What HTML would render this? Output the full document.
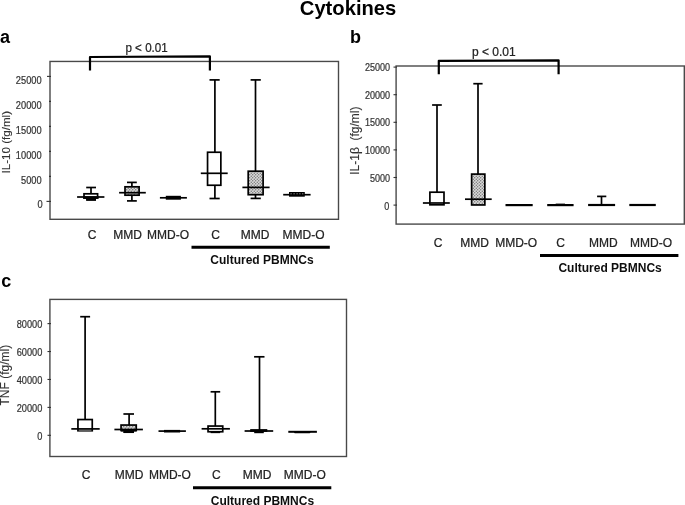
<!DOCTYPE html>
<html><head><meta charset="utf-8"><style>
html,body{margin:0;padding:0;background:#fff;}
svg{display:block;}
text{font-family:"Liberation Sans",sans-serif;}
</style></head><body>
<svg width="685" height="505" viewBox="0 0 685 505">
<defs>
<filter id="soft" x="-5%" y="-5%" width="110%" height="110%"><feGaussianBlur stdDeviation="0.4"/></filter>
<pattern id="dots" width="3" height="3" patternUnits="userSpaceOnUse">
<rect width="3" height="3" fill="#dadada"/>
<circle cx="0.75" cy="0.75" r="0.65" fill="#6a6a6a"/><circle cx="2.25" cy="2.25" r="0.65" fill="#6a6a6a"/>
</pattern>
<pattern id="stripes" width="4" height="4" patternUnits="userSpaceOnUse">
<rect width="4" height="4" fill="#ddd"/>
<path d="M0 4 L4 0" stroke="#666" stroke-width="1"/>
</pattern>
</defs>
<rect width="685" height="505" fill="#fff"/>
<g filter="url(#soft)">
<text x="299.8" y="14.5" font-size="20.2" text-anchor="start" font-weight="bold" fill="#000">Cytokines</text>
<text x="0" y="43.2" font-size="18" text-anchor="start" font-weight="bold" fill="#000">a</text>
<rect x="50.0" y="61.45" width="288.5" height="157.85000000000002" fill="none" stroke="#4a4a4a" stroke-width="1.4"/>
<line x1="47.0" y1="76.4" x2="51.0" y2="76.4" stroke="#333" stroke-width="1.1"/>
<text transform="translate(41.6,84.0) scale(0.875,1)" font-size="10.6" text-anchor="end" font-weight="normal" fill="#333" stroke="#333" stroke-width="0.22">25000</text>
<line x1="49.0" y1="101.4" x2="51.0" y2="101.4" stroke="#333" stroke-width="1.1"/>
<text transform="translate(41.6,109.0) scale(0.875,1)" font-size="10.6" text-anchor="end" font-weight="normal" fill="#333" stroke="#333" stroke-width="0.22">20000</text>
<line x1="49.0" y1="126.4" x2="51.0" y2="126.4" stroke="#333" stroke-width="1.1"/>
<text transform="translate(41.6,134.0) scale(0.875,1)" font-size="10.6" text-anchor="end" font-weight="normal" fill="#333" stroke="#333" stroke-width="0.22">15000</text>
<line x1="49.0" y1="151.4" x2="51.0" y2="151.4" stroke="#333" stroke-width="1.1"/>
<text transform="translate(41.6,159.0) scale(0.875,1)" font-size="10.6" text-anchor="end" font-weight="normal" fill="#333" stroke="#333" stroke-width="0.22">10000</text>
<line x1="49.0" y1="176.4" x2="51.0" y2="176.4" stroke="#333" stroke-width="1.1"/>
<text transform="translate(41.6,184.0) scale(0.875,1)" font-size="10.6" text-anchor="end" font-weight="normal" fill="#333" stroke="#333" stroke-width="0.22">5000</text>
<line x1="46.5" y1="201.4" x2="51.0" y2="201.4" stroke="#333" stroke-width="1.1"/>
<text transform="translate(42.6,207.6) scale(0.875,1)" font-size="10.6" text-anchor="end" font-weight="normal" fill="#333" stroke="#333" stroke-width="0.22">0</text>
<text transform="translate(9.8,142.2) rotate(-90)" font-size="11.6" text-anchor="middle" font-weight="normal" fill="#333" stroke="#333" stroke-width="0.1">IL-10 (fg/ml)</text>
<path d="M90 70.4 V57.0 L209.9 56.4 V70.4" fill="none" stroke="#000" stroke-width="2.2" stroke-linejoin="round"/>
<text transform="translate(146.6,51.5) scale(0.97,1)" font-size="12" text-anchor="middle" font-weight="normal" fill="#222" stroke="#222" stroke-width="0.22">p &lt; 0.01</text>
<line x1="91" y1="187.5" x2="91" y2="193.8" stroke="#000" stroke-width="1.7"/>
<line x1="86.2" y1="187.5" x2="96" y2="187.5" stroke="#000" stroke-width="1.7"/>
<line x1="91" y1="198.0" x2="91" y2="199.8" stroke="#000" stroke-width="1.7"/>
<line x1="86.2" y1="199.8" x2="96" y2="199.8" stroke="#000" stroke-width="1.7"/>
<rect x="84.0" y="193.8" width="13.599999999999994" height="4.199999999999989" fill="#fff" stroke="#000" stroke-width="1.7"/>
<line x1="77.1" y1="197.0" x2="104.4" y2="197.0" stroke="#000" stroke-width="1.7"/>
<rect x="83.2" y="196.3" width="15.2" height="2.5" fill="#000"/><rect x="86.2" y="198" width="9.8" height="2.7" fill="#000"/>
<line x1="131.9" y1="182.4" x2="131.9" y2="186.8" stroke="#000" stroke-width="1.7"/>
<line x1="127" y1="182.4" x2="136.8" y2="182.4" stroke="#000" stroke-width="1.7"/>
<line x1="131.9" y1="195.2" x2="131.9" y2="200.9" stroke="#000" stroke-width="1.7"/>
<line x1="127" y1="200.9" x2="136.8" y2="200.9" stroke="#000" stroke-width="1.7"/>
<rect x="125.0" y="186.8" width="14.099999999999994" height="8.399999999999977" fill="url(#dots)" stroke="#000" stroke-width="1.7"/>
<line x1="119.1" y1="192.7" x2="145.8" y2="192.7" stroke="#000" stroke-width="1.7"/>
<rect x="165.8" y="195.8" width="15.1" height="3.9" fill="#000"/>
<line x1="159.9" y1="197.8" x2="186.9" y2="197.8" stroke="#000" stroke-width="1.7"/>
<line x1="214.9" y1="79.9" x2="214.9" y2="152.25" stroke="#000" stroke-width="1.7"/>
<line x1="209.5" y1="79.9" x2="219.7" y2="79.9" stroke="#000" stroke-width="1.7"/>
<line x1="214.9" y1="185.25" x2="214.9" y2="198.5" stroke="#000" stroke-width="1.7"/>
<line x1="209.5" y1="198.5" x2="219.7" y2="198.5" stroke="#000" stroke-width="1.7"/>
<rect x="207.55" y="152.25" width="13.299999999999983" height="33.0" fill="#fff" stroke="#000" stroke-width="1.7"/>
<line x1="200.8" y1="173.3" x2="227.7" y2="173.3" stroke="#000" stroke-width="1.7"/>
<line x1="255.5" y1="79.9" x2="255.5" y2="171.2" stroke="#000" stroke-width="1.7"/>
<line x1="250.6" y1="79.9" x2="260.8" y2="79.9" stroke="#000" stroke-width="1.7"/>
<line x1="255.5" y1="194.7" x2="255.5" y2="198.4" stroke="#000" stroke-width="1.7"/>
<line x1="250.6" y1="198.4" x2="260.8" y2="198.4" stroke="#000" stroke-width="1.7"/>
<rect x="248.2" y="171.2" width="14.900000000000034" height="23.5" fill="url(#dots)" stroke="#000" stroke-width="1.7"/>
<line x1="242.4" y1="187.4" x2="269.6" y2="187.4" stroke="#000" stroke-width="1.7"/>
<rect x="289" y="192" width="15.8" height="4.7" fill="#000"/>
<line x1="283.2" y1="194.7" x2="310.6" y2="194.7" stroke="#000" stroke-width="1.7"/>
<rect x="290.5" y="193.2" width="1.2" height="1.1" fill="#888"/>
<rect x="293.5" y="193.2" width="1.2" height="1.1" fill="#888"/>
<rect x="296.5" y="193.2" width="1.2" height="1.1" fill="#888"/>
<rect x="299.29999999999995" y="193.2" width="1.2" height="1.1" fill="#888"/>
<rect x="302.09999999999997" y="193.2" width="1.2" height="1.1" fill="#888"/>
<text x="92" y="238.7" font-size="12" text-anchor="middle" font-weight="normal" fill="#222" stroke="#222" stroke-width="0.22">C</text>
<text x="127.6" y="238.7" font-size="12" text-anchor="middle" font-weight="normal" fill="#222" stroke="#222" stroke-width="0.22">MMD</text>
<text x="168" y="238.7" font-size="12" text-anchor="middle" font-weight="normal" fill="#222" stroke="#222" stroke-width="0.22">MMD-O</text>
<text x="215.6" y="238.7" font-size="12" text-anchor="middle" font-weight="normal" fill="#222" stroke="#222" stroke-width="0.22">C</text>
<text x="255.2" y="238.7" font-size="12" text-anchor="middle" font-weight="normal" fill="#222" stroke="#222" stroke-width="0.22">MMD</text>
<text x="303.6" y="238.7" font-size="12" text-anchor="middle" font-weight="normal" fill="#222" stroke="#222" stroke-width="0.22">MMD-O</text>
<line x1="191.5" y1="247.2" x2="329.8" y2="247.2" stroke="#000" stroke-width="3.0"/>
<text x="262" y="263.6" font-size="12" text-anchor="middle" font-weight="bold" fill="#111">Cultured PBMNCs</text>
<text x="350.0" y="43.4" font-size="18" text-anchor="start" font-weight="bold" fill="#000">b</text>
<rect x="396.1" y="66.0" width="288.19999999999993" height="158.1" fill="none" stroke="#4a4a4a" stroke-width="1.4"/>
<line x1="393.5" y1="67.1" x2="397.0" y2="67.1" stroke="#333" stroke-width="1.1"/>
<text transform="translate(390.1,70.7) scale(0.88,1)" font-size="10.3" text-anchor="end" font-weight="normal" fill="#333" stroke="#333" stroke-width="0.22">25000</text>
<line x1="393.5" y1="94.69999999999999" x2="397.0" y2="94.69999999999999" stroke="#333" stroke-width="1.1"/>
<text transform="translate(390.1,98.56) scale(0.88,1)" font-size="10.3" text-anchor="end" font-weight="normal" fill="#333" stroke="#333" stroke-width="0.22">20000</text>
<line x1="393.5" y1="122.3" x2="397.0" y2="122.3" stroke="#333" stroke-width="1.1"/>
<text transform="translate(390.1,126.42) scale(0.88,1)" font-size="10.3" text-anchor="end" font-weight="normal" fill="#333" stroke="#333" stroke-width="0.22">15000</text>
<line x1="393.5" y1="149.9" x2="397.0" y2="149.9" stroke="#333" stroke-width="1.1"/>
<text transform="translate(390.1,154.28) scale(0.88,1)" font-size="10.3" text-anchor="end" font-weight="normal" fill="#333" stroke="#333" stroke-width="0.22">10000</text>
<line x1="393.5" y1="177.5" x2="397.0" y2="177.5" stroke="#333" stroke-width="1.1"/>
<text transform="translate(390.1,182.14) scale(0.88,1)" font-size="10.3" text-anchor="end" font-weight="normal" fill="#333" stroke="#333" stroke-width="0.22">5000</text>
<line x1="393.5" y1="205.1" x2="397.0" y2="205.1" stroke="#333" stroke-width="1.1"/>
<text transform="translate(389.4,210.0) scale(0.88,1)" font-size="10.3" text-anchor="end" font-weight="normal" fill="#333" stroke="#333" stroke-width="0.22">0</text>
<text transform="translate(358.7,140.6) rotate(-90)" font-size="12" text-anchor="middle" font-weight="normal" fill="#333" stroke="#333" stroke-width="0.1">IL-1β&#160; (fg/ml)</text>
<path d="M438.8 74.2 V60.8 L558.6 60.35 V74.2" fill="none" stroke="#000" stroke-width="2.2" stroke-linejoin="round"/>
<text x="493.8" y="56.2" font-size="12" text-anchor="middle" font-weight="normal" fill="#222" stroke="#222" stroke-width="0.22">p &lt; 0.01</text>
<line x1="437" y1="105" x2="437" y2="192.2" stroke="#000" stroke-width="1.7"/>
<line x1="432.1" y1="105" x2="441.8" y2="105" stroke="#000" stroke-width="1.7"/>
<rect x="429.9" y="192.2" width="14.100000000000023" height="12.600000000000023" fill="#fff" stroke="#000" stroke-width="1.7"/>
<line x1="422.9" y1="203" x2="449.8" y2="203" stroke="#000" stroke-width="1.7"/>
<line x1="478" y1="83.7" x2="478" y2="174.1" stroke="#000" stroke-width="1.7"/>
<line x1="473.3" y1="83.7" x2="482.6" y2="83.7" stroke="#000" stroke-width="1.7"/>
<rect x="471.65" y="174.1" width="13.200000000000045" height="30.849999999999994" fill="url(#dots)" stroke="#000" stroke-width="1.7"/>
<line x1="465" y1="199.2" x2="491.7" y2="199.2" stroke="#000" stroke-width="1.7"/>
<line x1="505.5" y1="205.1" x2="532.7" y2="205.1" stroke="#000" stroke-width="2.2"/>
<rect x="555.7" y="203.6" width="9.3" height="2" fill="#000"/>
<line x1="547.2" y1="205.1" x2="573.6" y2="205.1" stroke="#000" stroke-width="2.2"/>
<line x1="601.5" y1="196.4" x2="601.5" y2="205" stroke="#000" stroke-width="1.7"/>
<line x1="597.1" y1="196.4" x2="606.3" y2="196.4" stroke="#000" stroke-width="1.7"/>
<line x1="588.1" y1="205" x2="615.1" y2="205" stroke="#000" stroke-width="2.2"/>
<line x1="629.3" y1="205" x2="655.8" y2="205" stroke="#000" stroke-width="2.2"/>
<text x="438" y="247.2" font-size="12" text-anchor="middle" font-weight="normal" fill="#222" stroke="#222" stroke-width="0.22">C</text>
<text x="474.5" y="247.2" font-size="12" text-anchor="middle" font-weight="normal" fill="#222" stroke="#222" stroke-width="0.22">MMD</text>
<text x="516.2" y="247.2" font-size="12" text-anchor="middle" font-weight="normal" fill="#222" stroke="#222" stroke-width="0.22">MMD-O</text>
<text x="560.5" y="247.2" font-size="12" text-anchor="middle" font-weight="normal" fill="#222" stroke="#222" stroke-width="0.22">C</text>
<text x="603.4" y="247.2" font-size="12" text-anchor="middle" font-weight="normal" fill="#222" stroke="#222" stroke-width="0.22">MMD</text>
<text x="651" y="247.2" font-size="12" text-anchor="middle" font-weight="normal" fill="#222" stroke="#222" stroke-width="0.22">MMD-O</text>
<line x1="540" y1="255.5" x2="678.4" y2="255.5" stroke="#000" stroke-width="3.0"/>
<text x="610.1" y="272.0" font-size="12" text-anchor="middle" font-weight="bold" fill="#111">Cultured PBMNCs</text>
<text x="1.2" y="286.9" font-size="18" text-anchor="start" font-weight="bold" fill="#000">c</text>
<rect x="49.9" y="299.4" width="296.6" height="157.10000000000002" fill="none" stroke="#4a4a4a" stroke-width="1.4"/>
<line x1="47.5" y1="323.6" x2="51.0" y2="323.6" stroke="#333" stroke-width="1.1"/>
<text transform="translate(42.3,327.90000000000003) scale(0.88,1)" font-size="10.5" text-anchor="end" font-weight="normal" fill="#333" stroke="#333" stroke-width="0.22">80000</text>
<line x1="47.5" y1="351.53000000000003" x2="51.0" y2="351.53000000000003" stroke="#333" stroke-width="1.1"/>
<text transform="translate(42.3,355.83000000000004) scale(0.88,1)" font-size="10.5" text-anchor="end" font-weight="normal" fill="#333" stroke="#333" stroke-width="0.22">60000</text>
<line x1="47.5" y1="379.46000000000004" x2="51.0" y2="379.46000000000004" stroke="#333" stroke-width="1.1"/>
<text transform="translate(42.3,383.76000000000005) scale(0.88,1)" font-size="10.5" text-anchor="end" font-weight="normal" fill="#333" stroke="#333" stroke-width="0.22">40000</text>
<line x1="47.5" y1="407.39" x2="51.0" y2="407.39" stroke="#333" stroke-width="1.1"/>
<text transform="translate(42.3,411.69) scale(0.88,1)" font-size="10.5" text-anchor="end" font-weight="normal" fill="#333" stroke="#333" stroke-width="0.22">20000</text>
<line x1="47.5" y1="435.32000000000005" x2="51.0" y2="435.32000000000005" stroke="#333" stroke-width="1.1"/>
<text transform="translate(42.3,439.62000000000006) scale(0.88,1)" font-size="10.5" text-anchor="end" font-weight="normal" fill="#333" stroke="#333" stroke-width="0.22">0</text>
<text transform="translate(9.2,375.2) rotate(-90)" font-size="12" text-anchor="middle" font-weight="normal" fill="#333" stroke="#333" stroke-width="0.1">TNF (fg/ml)</text>
<line x1="85.1" y1="316.7" x2="85.1" y2="419.55" stroke="#000" stroke-width="1.7"/>
<line x1="80.2" y1="316.7" x2="90.1" y2="316.7" stroke="#000" stroke-width="1.7"/>
<rect x="77.95" y="419.55" width="14.299999999999997" height="11.199999999999989" fill="#fff" stroke="#000" stroke-width="1.7"/>
<rect x="78.8" y="429.6" width="12.6" height="1.2" fill="#777"/>
<line x1="71.3" y1="428.9" x2="99.7" y2="428.9" stroke="#000" stroke-width="1.7"/>
<line x1="129.1" y1="414" x2="129.1" y2="425.05" stroke="#000" stroke-width="1.7"/>
<line x1="123.4" y1="414" x2="134" y2="414" stroke="#000" stroke-width="1.7"/>
<line x1="129.1" y1="430.5" x2="129.1" y2="432.2" stroke="#000" stroke-width="1.7"/>
<line x1="123.4" y1="432.2" x2="134" y2="432.2" stroke="#000" stroke-width="1.7"/>
<rect x="121.05" y="425.05" width="15.200000000000003" height="5.449999999999989" fill="url(#dots)" stroke="#000" stroke-width="1.7"/>
<line x1="114.4" y1="429.5" x2="142.9" y2="429.5" stroke="#000" stroke-width="1.7"/>
<rect x="121" y="429.5" width="15.5" height="2" fill="#000"/><rect x="123.6" y="430.5" width="10.4" height="2.4" fill="#000"/>
<rect x="164" y="429.9" width="16.1" height="2.6" fill="#000"/>
<line x1="158.5" y1="431.1" x2="185.9" y2="431.1" stroke="#000" stroke-width="1.7"/>
<line x1="215.3" y1="391.8" x2="215.3" y2="426.05" stroke="#000" stroke-width="1.7"/>
<line x1="210.6" y1="391.8" x2="220.2" y2="391.8" stroke="#000" stroke-width="1.7"/>
<line x1="215.3" y1="431.75" x2="215.3" y2="432.3" stroke="#000" stroke-width="1.7"/>
<line x1="210.6" y1="432.3" x2="220.2" y2="432.3" stroke="#000" stroke-width="1.7"/>
<rect x="208.05" y="426.05" width="14.699999999999989" height="5.699999999999989" fill="#fff" stroke="#000" stroke-width="1.7"/>
<line x1="201.6" y1="428.8" x2="229.9" y2="428.8" stroke="#000" stroke-width="1.7"/>
<rect x="250.2" y="429.1" width="17.1" height="2.8" fill="#000"/><rect x="254.2" y="431" width="9.6" height="2.2" fill="#000"/>
<line x1="259.5" y1="356.8" x2="259.5" y2="430" stroke="#000" stroke-width="1.7"/>
<line x1="254.1" y1="356.8" x2="264.5" y2="356.8" stroke="#000" stroke-width="1.7"/>
<line x1="244.6" y1="431" x2="273.2" y2="431" stroke="#000" stroke-width="1.7"/>
<line x1="288.3" y1="431.8" x2="316.9" y2="431.8" stroke="#000" stroke-width="2.0"/>
<rect x="294.1" y="431.2" width="16.3" height="2.1" rx="0.8" fill="#000"/>
<text x="86" y="478.8" font-size="12" text-anchor="middle" font-weight="normal" fill="#222" stroke="#222" stroke-width="0.22">C</text>
<text x="129.1" y="478.8" font-size="12" text-anchor="middle" font-weight="normal" fill="#222" stroke="#222" stroke-width="0.22">MMD</text>
<text x="169.9" y="478.8" font-size="12" text-anchor="middle" font-weight="normal" fill="#222" stroke="#222" stroke-width="0.22">MMD-O</text>
<text x="216.3" y="478.8" font-size="12" text-anchor="middle" font-weight="normal" fill="#222" stroke="#222" stroke-width="0.22">C</text>
<text x="257" y="478.8" font-size="12" text-anchor="middle" font-weight="normal" fill="#222" stroke="#222" stroke-width="0.22">MMD</text>
<text x="304.8" y="478.8" font-size="12" text-anchor="middle" font-weight="normal" fill="#222" stroke="#222" stroke-width="0.22">MMD-O</text>
<line x1="193" y1="487.8" x2="331.3" y2="487.8" stroke="#000" stroke-width="3.0"/>
<text x="262.4" y="504.6" font-size="12" text-anchor="middle" font-weight="bold" fill="#111">Cultured PBMNCs</text>
</g>
</svg>
</body></html>
